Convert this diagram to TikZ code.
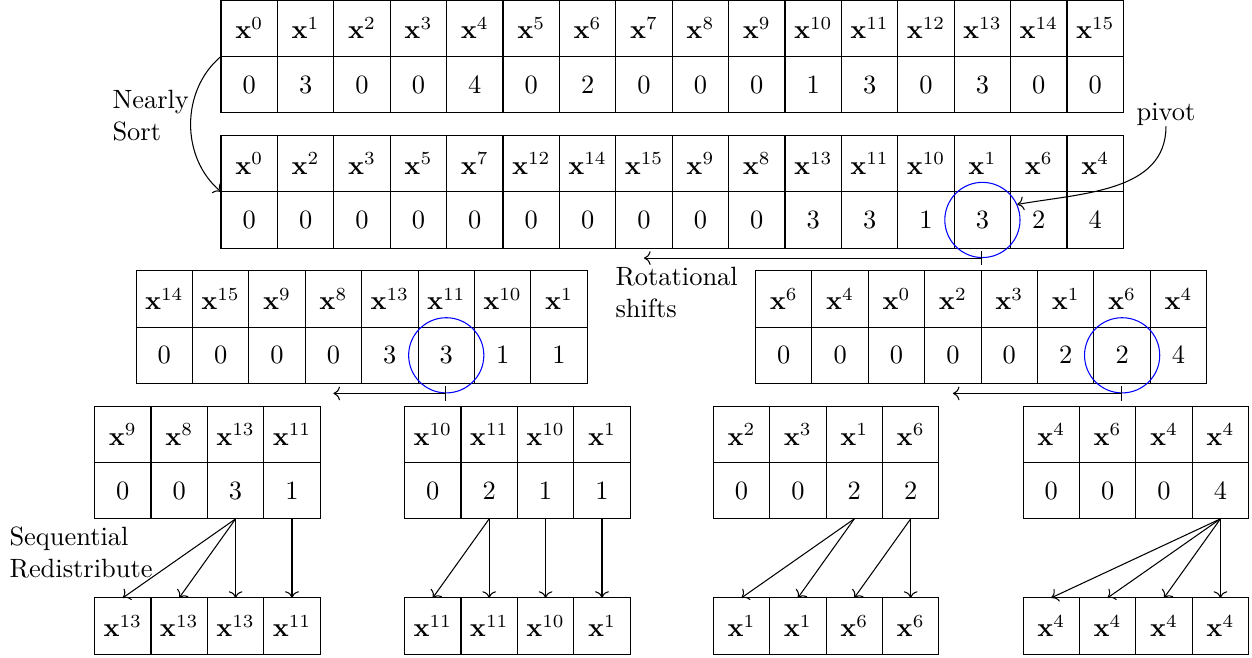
\documentclass[tikz,border=0pt]{standalone}
\usepackage{tikz}
\usetikzlibrary{arrows.meta,positioning}

\begin{document}
\begin{tikzpicture}[
  cell/.style={draw, minimum size=0.75cm, inner sep=0pt, outer sep=0pt, anchor=north west},
  pivot/.style={draw=blue, circle, minimum size=1cm, inner sep=0pt},
  note/.style={align=left, inner sep=0pt},
  arrow/.style={->},
  rot/.style={arrows={Bar[width=5.4pt]->}}
]
  \useasboundingbox (0,0) rectangle (16.649,-8.737);

  % input and nearly sorted rows
  \foreach \hd/\vl [count=\i] in {0/0,1/3,2/0,3/0,4/4,5/0,6/2,7/0,8/0,9/0,10/1,11/3,12/0,13/3,14/0,15/0} {
    \node[cell] (t1h\i) at ({2.939+0.75*(\i-1)},0) {$\mathbf{x}^{\hd}$};
    \node[cell] (t1v\i) at ({2.939+0.75*(\i-1)},-0.75) {$\vl$};
  }
  \foreach \hd/\vl [count=\i] in {0/0,2/0,3/0,5/0,7/0,12/0,14/0,15/0,9/0,8/0,13/3,11/3,10/1,1/3,6/2,4/4} {
    \node[cell] (t2h\i) at ({2.939+0.75*(\i-1)},-1.8) {$\mathbf{x}^{\hd}$};
    \node[cell] (t2v\i) at ({2.939+0.75*(\i-1)},-2.55) {$\vl$};
  }

  % after the first split
  \foreach \hd/\vl [count=\i] in {14/0,15/0,9/0,8/0,13/3,11/3,10/1,1/1} {
    \node[cell] (m1h\i) at ({1.809+0.75*(\i-1)},-3.6) {$\mathbf{x}^{\hd}$};
    \node[cell] (m1v\i) at ({1.809+0.75*(\i-1)},-4.35) {$\vl$};
  }
  \foreach \hd/\vl [count=\i] in {6/0,4/0,0/0,2/0,3/0,1/2,6/2,4/4} {
    \node[cell] (m2h\i) at ({10.047+0.75*(\i-1)},-3.6) {$\mathbf{x}^{\hd}$};
    \node[cell] (m2v\i) at ({10.047+0.75*(\i-1)},-4.35) {$\vl$};
  }

  % leaves and their redistributed rows
  \foreach \k/\xb/\cols/\outs in {1/1.258/{9/0,8/0,13/3,11/1}/{13,13,13,11},
                                 2/5.380/{10/0,11/2,10/1,1/1}/{11,11,10,1},
                                 3/9.485/{2/0,3/0,1/2,6/2}/{1,1,6,6},
                                 4/13.604/{4/0,6/0,4/0,4/4}/{4,4,4,4}} {
    \foreach \hd/\vl [count=\i] in \cols {
      \node[cell] (b\k h\i) at ({\xb+0.75*(\i-1)},-5.4) {$\mathbf{x}^{\hd}$};
      \node[cell] (b\k v\i) at ({\xb+0.75*(\i-1)},-6.15) {$\vl$};
    }
    \foreach \hd [count=\i] in \outs
      \node[cell] (r\k h\i) at ({\xb+0.75*(\i-1)},-7.95) {$\mathbf{x}^{\hd}$};
  }

  % pivots
  \node[pivot] (p1) at (t2v14) {};
  \node[pivot] (p2) at (m1v6) {};
  \node[pivot] (p3) at (m2v7) {};

  \node[note, anchor=base] (pv) at (15.505,-1.605) {pivot};
  \draw[arrow] (pv.south) to[out=-90, in=10] (p1.24);

  \node[note, anchor=north west] (ns) at (1.489,-1.197) {Nearly\\Sort};
  \draw[arrow] (t1v1.north west) to[out=-140, in=140] (t2v1.north west);

  % rotational shifts
  \coordinate[left=4.5cm of p1.south] (s1);
  \coordinate[left=1.5cm of p2.south] (s2);
  \coordinate[left=2.25cm of p3.south] (s3);
  \draw[rot] (p1.south) -- (s1);
  \draw[rot] (p2.south) -- (s2);
  \draw[rot] (p3.south) -- (s3);
  \node[note, anchor=north west] (rs) at (8.178,-3.546) {Rotational\\shifts};

  % sequential redistribute
  \node[note, anchor=north west] (sr) at (0.12,-7.004) {Sequential\\Redistribute};
  \draw[arrow] (b1v3.south) -- (r1h1.north);
  \draw[arrow] (b1v3.south) -- (r1h2.north);
  \draw[arrow] (b1v3.south) -- (r1h3.north);
  \draw[arrow] (b1v4.south) -- (r1h4.north);
  \draw[arrow] (b2v2.south) -- (r2h1.north);
  \draw[arrow] (b2v2.south) -- (r2h2.north);
  \draw[arrow] (b2v3.south) -- (r2h3.north);
  \draw[arrow] (b2v4.south) -- (r2h4.north);
  \draw[arrow] (b3v3.south) -- (r3h1.north);
  \draw[arrow] (b3v3.south) -- (r3h2.north);
  \draw[arrow] (b3v4.south) -- (r3h3.north);
  \draw[arrow] (b3v4.south) -- (r3h4.north);
  \draw[arrow] (b4v4.south) -- (r4h1.north);
  \draw[arrow] (b4v4.south) -- (r4h2.north);
  \draw[arrow] (b4v4.south) -- (r4h3.north);
  \draw[arrow] (b4v4.south) -- (r4h4.north);
\end{tikzpicture}
\end{document}
